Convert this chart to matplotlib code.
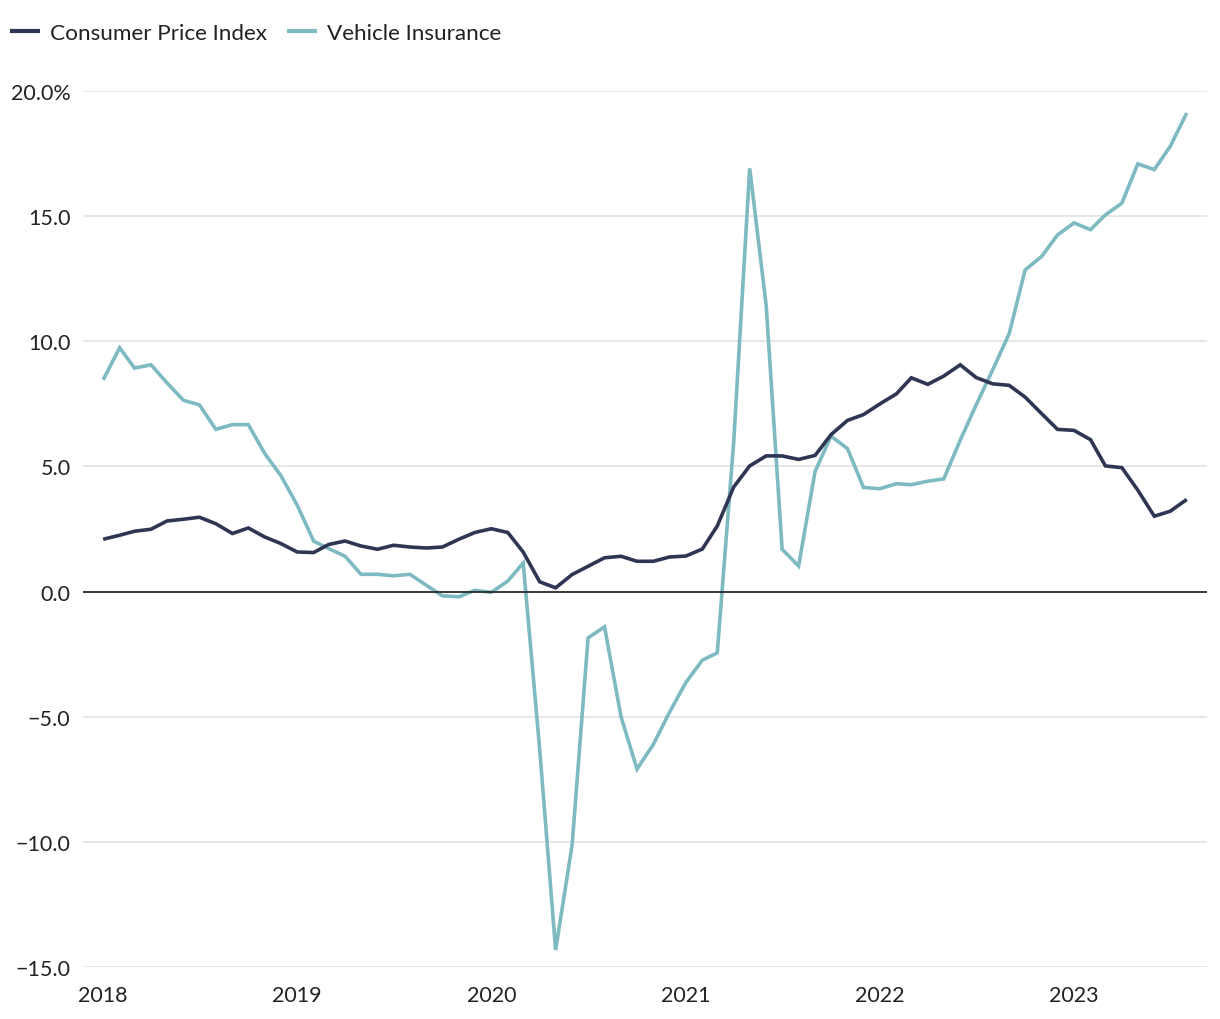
import matplotlib
matplotlib.use("Agg")
import matplotlib.pyplot as plt
import pandas as pd

plt.rcParams['font.family'] = ['Lato', 'DejaVu Sans']

start_month = "2018-01-01"
cpi = [2.09, 2.25, 2.41, 2.49, 2.82, 2.89, 2.97, 2.71, 2.32, 2.54, 2.18, 1.92,
       1.58, 1.56, 1.88, 2.02, 1.82, 1.69, 1.85, 1.78, 1.74, 1.78, 2.09, 2.36,
       2.51, 2.36, 1.58, 0.39, 0.15, 0.68, 1.01, 1.35, 1.41, 1.21, 1.21, 1.38,
       1.42, 1.70, 2.62, 4.18, 5.02, 5.42, 5.42, 5.28, 5.44, 6.27, 6.84, 7.07,
       7.50, 7.90, 8.54, 8.28, 8.61, 9.06, 8.55, 8.30, 8.24, 7.77, 7.11, 6.48,
       6.44, 6.07, 5.02, 4.95, 4.05, 3.01, 3.21, 3.68]
vehicle = [8.46, 9.74, 8.93, 9.06, 8.34, 7.64, 7.46, 6.48, 6.67, 6.67, 5.51, 4.64,
           3.45, 2.01, 1.72, 1.41, 0.69, 0.69, 0.63, 0.69, 0.25, -0.17, -0.21, 0.05,
           -0.03, 0.42, 1.14, -6.3, -14.32, -10.13, -1.85, -1.41, -5.0, -7.09, -6.1, -4.83,
           -3.63, -2.74, -2.45, 6.0, 16.91, 11.43, 1.69, 1.02, 4.80, 6.21, 5.71, 4.16,
           4.11, 4.31, 4.27, 4.41, 4.50, 6.05, 7.46, 8.86, 10.30, 12.85, 13.39, 14.25,
           14.73, 14.46, 15.05, 15.52, 17.09, 16.86, 17.79, 19.12]
series_names = ["Consumer Price Index", "Vehicle Insurance"]
y_ticks = [-15, -10, -5, 0, 5, 10, 15, 20]
year_labels = ["2018", "2019", "2020", "2021", "2022", "2023"]

dates = pd.date_range(start_month, periods=len(cpi), freq="MS")

fig = plt.figure(figsize=(12.2, 10.2), dpi=100)
ax = fig.add_axes([0.068, 0.051, 0.9213, 0.8588])

c_cpi = "#2e3654"
c_veh = "#7dbac2"
text_c = "#222222"
fs = 15.5

ax.plot(dates, cpi, color=c_cpi, lw=2.6, label=series_names[0], zorder=3,
        solid_joinstyle="miter", solid_capstyle="butt")
ax.plot(dates, vehicle, color=c_veh, lw=2.6, label=series_names[1], zorder=2,
        solid_joinstyle="miter", solid_capstyle="butt")

ax.set_ylim(-15, 20)
ax.set_xlim(dates[0] - pd.Timedelta(days=38), dates[-1] + pd.Timedelta(days=38))
ax.set_yticks(y_ticks)
ylabels = []
for v in y_ticks:
    s = f"{abs(v):.1f}"
    if v < 0:
        s = "\u2212" + s
    if v == 20:
        s += "%"
    ylabels.append(s)
ax.set_yticklabels(ylabels)
ax.set_xticks([pd.Timestamp(f"{y}-01-01") for y in year_labels])
ax.set_xticklabels(year_labels)

for v in y_ticks:
    if v == 0:
        ax.axhline(v, color="#2a2a2a", lw=1.3, zorder=4)
    else:
        ax.axhline(v, color="#e3e3e3", lw=1.2, zorder=1)

for s in ax.spines.values():
    s.set_visible(False)
ax.tick_params(axis="both", length=0, labelsize=fs, colors=text_c)
ax.tick_params(axis="y", pad=9)
ax.tick_params(axis="x", pad=13)

leg = fig.legend(loc="center left", bbox_to_anchor=(10 / 1220, 1 - 34 / 1020), ncol=2,
                 frameon=False, fontsize=16.2, handlelength=1.35, handletextpad=0.45,
                 columnspacing=0.85, labelcolor=text_c, borderpad=0, borderaxespad=0)
for h in leg.legend_handles:
    h.set_linewidth(3.0)

fig.savefig("out.png", dpi=100, facecolor="white")
